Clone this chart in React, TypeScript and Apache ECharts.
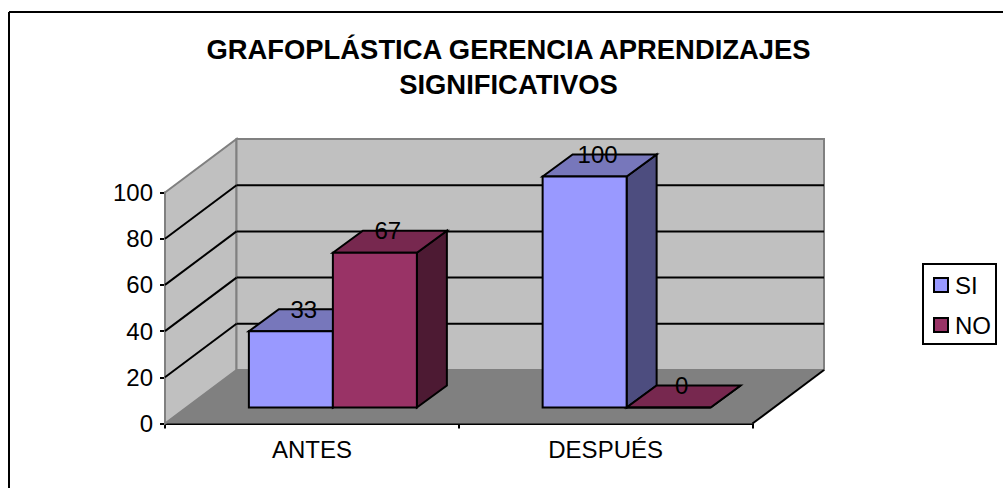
import React, { useEffect, useRef } from "react";
import * as echarts from "echarts";

const titleText = "GRAFOPLÁSTICA GERENCIA APRENDIZAJES\nSIGNIFICATIVOS";
const categories = ["ANTES", "DESPUÉS"];
const siValues = [33, 100];
const noValues = [67, 0];
const yTicks = [0, 20, 40, 60, 80, 100];

const FONT = "Liberation Sans, Arial, sans-serif";
const FS = 24;
const WALL_DX = 71.5;
const WALL_DY = -53.5;
const BAR_W = 84;
const BAR_FRONT_DX = 21;
const BAR_FRONT_DY = -16;
const BAR_DEPTH_DX = 30;
const BAR_DEPTH_DY = -22;

const poly = (points: number[][], fill: string, stroke: string, lineWidth = 2) => ({
  type: "polygon",
  shape: { points },
  style: { fill, stroke, lineWidth, lineJoin: "miter" },
});

const line = (a: number[], b: number[], stroke: string, lineWidth = 2) => ({
  type: "line",
  shape: { x1: a[0], y1: a[1], x2: b[0], y2: b[1] },
  style: { stroke, lineWidth },
});

const renderWalls = (_: any, api: any) => {
  const band = api.size([1, 0])[0];
  const cx = api.coord([0, 0])[0];
  const left = cx - band / 2;
  const right = left + band * categories.length;
  const y0 = api.coord([0, 0])[1];
  const y100 = api.coord([0, 100])[1];
  const children: any[] = [
    poly([[left, y0], [left + WALL_DX, y0 + WALL_DY], [right + WALL_DX, y0 + WALL_DY], [right, y0]], "#808080", "none", 0),
    poly([[left, y100], [left + WALL_DX, y100 + WALL_DY], [left + WALL_DX, y0 + WALL_DY], [left, y0]], "#C0C0C0", "#808080"),
    poly([[left + WALL_DX, y100 + WALL_DY], [right + WALL_DX, y100 + WALL_DY], [right + WALL_DX, y0 + WALL_DY], [left + WALL_DX, y0 + WALL_DY]], "#C0C0C0", "#808080"),
    line([right, y0], [right + WALL_DX, y0 + WALL_DY], "#000000"),
  ];
  yTicks.slice(1, -1).forEach((t) => {
    const y = api.coord([0, t])[1];
    children.push(line([left, y], [left + WALL_DX, y + WALL_DY], "#000000"));
    children.push(line([left + WALL_DX, y + WALL_DY], [right + WALL_DX, y + WALL_DY], "#000000"));
  });
  return { type: "group", children };
};

const makeBar = (slot: number, front: string, top: string, side: string) => (_: any, api: any) => {
  const value = api.value(1);
  const [cx, yTop] = api.coord([api.value(0), value]);
  const yBase = api.coord([api.value(0), 0])[1];
  const x0 = cx + BAR_FRONT_DX + (slot - 1) * BAR_W;
  const x1 = x0 + BAR_W;
  const by = yBase + BAR_FRONT_DY;
  const ty = yTop + BAR_FRONT_DY;
  const d = BAR_DEPTH_DX;
  const e = BAR_DEPTH_DY;
  return {
    type: "group",
    children: [
      poly([[x1, by], [x1 + d, by + e], [x1 + d, ty + e], [x1, ty]], side, "#000000"),
      poly([[x0, ty], [x0 + d, ty + e], [x1 + d, ty + e], [x1, ty]], top, "#000000"),
      poly([[x0, by], [x1, by], [x1, ty], [x0, ty]], front, "#000000"),
      {
        type: "text",
        z2: 10,
        style: {
          text: String(value),
          x: (x0 + x1) / 2 + 13,
          y: ty + e,
          align: "center",
          verticalAlign: "middle",
          font: `${FS}px ${FONT}`,
          fill: "#000000",
        },
      },
    ],
  };
};

export default function App() {
  const ref = useRef<HTMLDivElement>(null);

  useEffect(() => {
    document.body.style.margin = "0";
    const chart = echarts.init(ref.current!, null, { renderer: "svg" });
    chart.setOption({
      animation: false,
      backgroundColor: "#FFFFFF",
      title: {
        text: titleText,
        left: 503.5,
        top: 27,
        textAlign: "center",
        textStyle: { fontFamily: FONT, fontSize: 27.4, fontWeight: "bold", color: "#000000", lineHeight: 35 },
      },
      grid: { left: 165, top: 192.5, width: 587.5, height: 231, containLabel: false },
      xAxis: {
        type: "category",
        data: categories,
        boundaryGap: true,
        axisLine: { lineStyle: { color: "#000000", width: 2 } },
        axisTick: { show: true, alignWithLabel: false, inside: false, length: 5, lineStyle: { color: "#000000", width: 2 } },
        axisLabel: { color: "#000000", fontFamily: FONT, fontSize: FS, margin: 14 },
      },
      yAxis: {
        type: "value",
        min: 0,
        max: 100,
        interval: 20,
        axisLine: { show: true, lineStyle: { color: "#000000", width: 2 } },
        axisTick: { show: true, inside: false, length: 5, lineStyle: { color: "#000000", width: 2 } },
        axisLabel: { color: "#000000", fontFamily: FONT, fontSize: FS, margin: 12 },
        splitLine: { show: false },
      },
      legend: {
        orient: "vertical",
        left: 923,
        top: 264,
        padding: [9, 5, 7, 10],
        itemGap: 16,
        itemWidth: 14,
        itemHeight: 14,
        borderColor: "#000000",
        borderWidth: 2,
        textStyle: { color: "#000000", fontFamily: FONT, fontSize: FS, padding: [0, 0, 0, 2] },
        data: [
          { name: "SI", icon: "rect", itemStyle: { color: "#9999FF", borderColor: "#000000", borderWidth: 2 } },
          { name: "NO", icon: "rect", itemStyle: { color: "#993366", borderColor: "#000000", borderWidth: 2 } },
        ],
      },
      graphic: [
        { type: "line", shape: { x1: 9, y1: 12, x2: 1003, y2: 12 }, style: { stroke: "#000000", lineWidth: 2 } },
        { type: "line", shape: { x1: 9, y1: 12, x2: 9, y2: 488 }, style: { stroke: "#000000", lineWidth: 2 } },
      ],
      series: [
        { type: "custom", name: "walls", z: 1, silent: true, clip: false, renderItem: renderWalls, data: [[0, 0]] },
        {
          type: "custom",
          name: "SI",
          z: 4,
          clip: false,
          itemStyle: { color: "#9999FF" },
          renderItem: makeBar(0, "#9999FF", "#7777BB", "#4D4D7F"),
          data: categories.map((_, i) => [i, siValues[i]]),
        },
        {
          type: "custom",
          name: "NO",
          z: 5,
          clip: false,
          itemStyle: { color: "#993366" },
          renderItem: makeBar(1, "#993366", "#77284F", "#4D1A33"),
          data: categories.map((_, i) => [i, noValues[i]]),
        },
      ],
    });
    return () => chart.dispose();
  }, []);

  return <div ref={ref} style={{ width: 1003, height: 488 }} />;
}
